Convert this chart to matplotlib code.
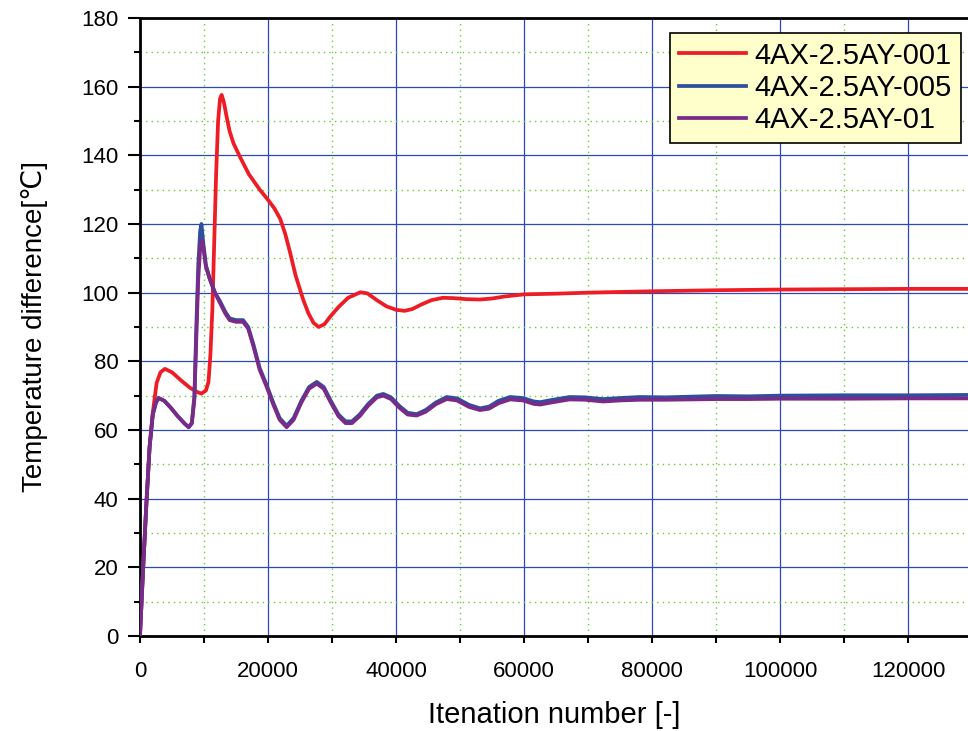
import matplotlib.pyplot as plt
from matplotlib.ticker import MultipleLocator

plt.rcParams['font.family'] = ['Liberation Sans', 'DejaVu Sans']

# 4AX-2.5AY-001
x_001 = [0, 500, 1000, 1500, 2000, 2600, 3200, 3900, 5000, 6500, 7800, 9000, 9600, 10300,
         10700, 11000, 11300, 11600, 11900, 12200, 12500, 12750, 13100, 13500, 14000,
         14600, 15600, 17000, 18700, 20000, 21000, 21900, 22700, 23400, 24300, 25500,
         26300, 27100, 27900, 28800, 29700, 31000, 32500, 34400, 35500, 37000, 38500,
         40000, 41300, 42500, 44000, 45500, 47300, 49000, 51000, 53100, 55000, 57000,
         60000, 65000, 70000, 75000, 80000, 90000, 100000, 110000, 120000, 129300]
y_001 = [0, 20, 38.5, 55, 65, 73.7, 76.8, 77.8, 76.8, 74.3, 72.3, 71, 70.6, 71.5,
         74, 82, 95, 115, 135, 150, 156.5, 157.6, 155.5, 151.5, 147,
         143.5, 139.6, 134.5, 130, 127, 124.5, 121.5, 117, 112, 105, 97.9,
         94, 91.2, 90, 90.8, 93, 95.8, 98.5, 100.1, 99.8, 97.8, 96,
         95, 94.7, 95.2, 96.6, 97.8, 98.5, 98.4, 98.1, 98, 98.3, 98.9,
         99.5, 99.7, 100, 100.2, 100.4, 100.7, 100.9, 101, 101.1, 101.1]

# 4AX-2.5AY-005
x_005 = [0, 500, 1000, 1500, 2000, 2500, 2900, 3800, 4800, 5900, 7000, 7600, 8100,
         8500, 8800, 9100, 9400, 9600, 9850, 10300, 10900, 11700, 12500, 13300,
         14000, 15000, 16100, 16900, 17700, 18700, 19800, 20800, 21800, 22900, 24000,
         25200, 26400, 27600, 28700, 29800, 31000, 32100, 33100, 34300, 35600, 37000,
         38000, 39200, 40500, 41800, 43200, 44600, 46200, 47900, 49500, 51400, 53100,
         54500, 56000, 57800, 59800, 61500, 62500, 64200, 67100, 69500, 72300, 75000,
         78000, 82000, 86000, 90000, 95000, 100000, 110000, 120000, 129300]
y_005 = [0, 20, 38.5, 55, 64.5, 68, 69.3, 68.5, 66.5, 64, 61.8, 60.8, 62,
         70, 90, 108, 118, 120, 115, 108, 104, 100, 97.5, 94.5,
         92.5, 92, 92, 90, 85, 78, 73, 68, 63.5, 61.2, 63.5,
         68.5, 72.5, 74, 72.5, 68.5, 64.5, 62.5, 62.5, 64.5, 67.5, 70,
         70.5, 69.5, 67, 65, 64.6, 65.8, 68, 69.6, 69.2, 67.3, 66.3,
         66.8, 68.5, 69.6, 69.3, 68.3, 68.1, 68.7, 69.6, 69.5, 69, 69.3,
         69.6, 69.5, 69.7, 69.9, 69.8, 70, 70.1, 70.1, 70.2]

# 4AX-2.5AY-01
x_01 = [0, 500, 1000, 1500, 2000, 2500, 2900, 3800, 4800, 5900, 7000, 7600, 8100,
        8500, 8800, 9100, 9400, 9650, 9900, 10300, 10900, 11700, 12500, 13300,
        14000, 15000, 16100, 16900, 17700, 18700, 19800, 20800, 21800, 22900, 24000,
        25200, 26400, 27600, 28700, 29800, 31000, 32100, 33100, 34300, 35600, 37000,
        38000, 39200, 40500, 41800, 43200, 44600, 46200, 47900, 49500, 51400, 53100,
        54500, 56000, 57800, 59800, 61500, 62500, 64200, 67100, 69500, 72300, 75000,
        78000, 82000, 86000, 90000, 95000, 100000, 110000, 120000, 129300]
y_01 = [0, 20, 38.5, 55, 64.5, 68, 69.3, 68.5, 66.5, 64, 61.8, 60.8, 62,
        69, 87, 104, 113, 115.3, 113, 107.5, 104, 100, 97, 94,
        92, 91.5, 91.5, 89.5, 84.5, 77.5, 72.5, 67.5, 63, 60.8, 63,
        68, 72, 73.5, 72, 68, 64, 62, 62, 64, 67, 69.5,
        70, 69, 66.5, 64.5, 64.2, 65.3, 67.5, 69, 68.6, 66.7, 65.8,
        66.2, 67.8, 68.9, 68.6, 67.6, 67.4, 68, 68.9, 68.8, 68.3, 68.6,
        68.8, 68.8, 68.9, 69, 69, 69.1, 69.1, 69.2, 69.2]

labels = ['4AX-2.5AY-001', '4AX-2.5AY-005', '4AX-2.5AY-01']
colors = ['#ee1c24', '#2e4f9e', '#7a2a88']

fig = plt.figure(figsize=(9.68, 7.31), dpi=100)
ax = fig.add_axes([0.1446, 0.130, 0.8554, 0.8454])

ax.plot(x_001, y_001, color=colors[0], lw=2.7, label=labels[0], zorder=5)
ax.plot(x_005, y_005, color=colors[1], lw=2.7, label=labels[1], zorder=6)
ax.plot(x_01, y_01, color=colors[2], lw=2.7, label=labels[2], zorder=7)

ax.set_xlim(0, 129300)
ax.set_ylim(0, 180)
ax.xaxis.set_major_locator(MultipleLocator(20000))
ax.xaxis.set_minor_locator(MultipleLocator(10000))
ax.yaxis.set_major_locator(MultipleLocator(20))
ax.yaxis.set_minor_locator(MultipleLocator(10))

ax.grid(which='major', color='#2c4ab0', lw=0.9, ls='-')
ax.grid(which='minor', color='#66cc33', lw=1.0, ls=(0, (1, 3)))
ax.set_axisbelow(True)

ax.tick_params(axis='y', which='major', direction='out', length=8.6, width=1.5,
               labelsize=16, pad=7)
ax.tick_params(axis='y', which='minor', direction='out', length=4.5, width=1.5)
ax.tick_params(axis='x', which='both', direction='out', length=5, width=1.5,
               labelsize=16, pad=13)
ax.tick_params(top=False, right=False)

for s in ['left', 'bottom', 'top']:
    ax.spines[s].set_linewidth(2)
    ax.spines[s].set_color('black')
ax.spines['right'].set_visible(False)

ax.set_xlabel('Itenation number [-]', fontsize=21, labelpad=14)
ax.set_ylabel('Temperature difference[℃]', fontsize=20, labelpad=24)

leg = ax.legend(loc='upper right', bbox_to_anchor=(0.991, 0.976), borderaxespad=0,
                fontsize=21, fancybox=False, framealpha=1, handlelength=2.3,
                labelspacing=0.15, handletextpad=0.3, borderpad=0.3)
leg.get_frame().set_facecolor('#ffffcc')
leg.get_frame().set_edgecolor('black')
leg.get_frame().set_linewidth(1.2)

fig.savefig('out.png', dpi=100)
